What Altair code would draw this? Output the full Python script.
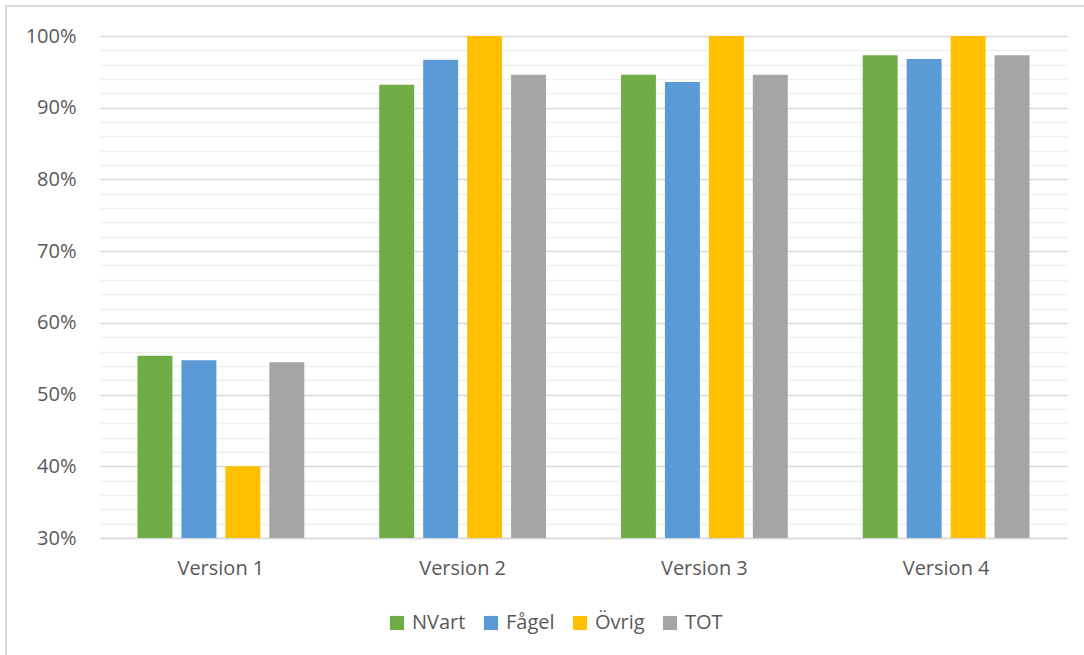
import altair as alt
import pandas as pd

versions = ["Version 1", "Version 2", "Version 3", "Version 4"]
series = ["NVart", "Fågel", "Övrig", "TOT"]
colors = ["#70AD47", "#5B9BD5", "#FFC000", "#A5A5A5"]
nvart = [0.554, 0.932, 0.946, 0.973]
fagel = [0.548, 0.967, 0.936, 0.968]
ovrig = [0.400, 1.000, 1.000, 1.000]
tot = [0.545, 0.946, 0.946, 0.973]
tick_values = [round(0.30 + 0.02 * i, 2) for i in range(36)]

rows = []
for s, vals in zip(series, [nvart, fagel, ovrig, tot]):
    for v, val in zip(versions, vals):
        rows.append({"version": v, "series": s, "value": val})
df = pd.DataFrame(rows)

FONT = "Open Sans"
TXT = "#595959"
FS = 20

bars = alt.Chart(df).mark_bar(clip=True).encode(
    x=alt.X("version:N", sort=versions, title=None,
            scale=alt.Scale(paddingInner=0.31, paddingOuter=0.155),
            axis=alt.Axis(labelAngle=0, labelFontSize=FS, labelColor=TXT, labelFont=FONT,
                          ticks=False, domainColor="#d9d9d9", domainWidth=1.5, labelPadding=20)),
    xOffset=alt.XOffset("series:N", sort=series,
                        scale=alt.Scale(paddingInner=0.2045, paddingOuter=0)),
    y=alt.Y("value:Q", title=None,
            scale=alt.Scale(domain=[0.3, 1.0], nice=False, zero=False),
            axis=alt.Axis(values=tick_values, domain=False, ticks=False,
                          labelFontSize=FS, labelColor=TXT, labelFont=FONT, labelPadding=24,
                          labelExpr="(round(datum.value*100) % 10 == 0) ? format(datum.value, '.0%') : ''",
                          gridColor={"condition": {"test": "round(datum.value*100) % 10 == 0", "value": "#d9d9d9"}, "value": "#f0f0f0"},
                          gridWidth={"condition": {"test": "round(datum.value*100) % 10 == 0", "value": 1.5}, "value": 1.5})),
    color=alt.Color("series:N", sort=series,
                    scale=alt.Scale(domain=series, range=colors),
                    legend=alt.Legend(title=None, orient="none", direction="horizontal",
                                      legendX=287, legendY=577, symbolType="square",
                                      symbolSize=200, symbolStrokeWidth=0, symbolOpacity=1,
                                      labelFontSize=FS, labelColor=TXT, labelFont=FONT,
                                      columnPadding=15, labelOffset=5)),
)

border = alt.Chart(pd.DataFrame({"a": [0]})).mark_rect(fill=None, stroke="#d9d9d9", strokeWidth=2).encode(
    x=alt.value(-94), x2=alt.value(1100), y=alt.value(-30), y2=alt.value(700)
)

chart = alt.layer(border, bars).properties(
    width=967, height=502,
    padding={"left": 100, "top": 36, "right": 17, "bottom": 117},
    autosize=alt.AutoSizeParams(type="none"),
    background="white",
).configure_view(stroke=None)

chart.save("out.html", embed_options={"renderer": "svg", "actions": False})
